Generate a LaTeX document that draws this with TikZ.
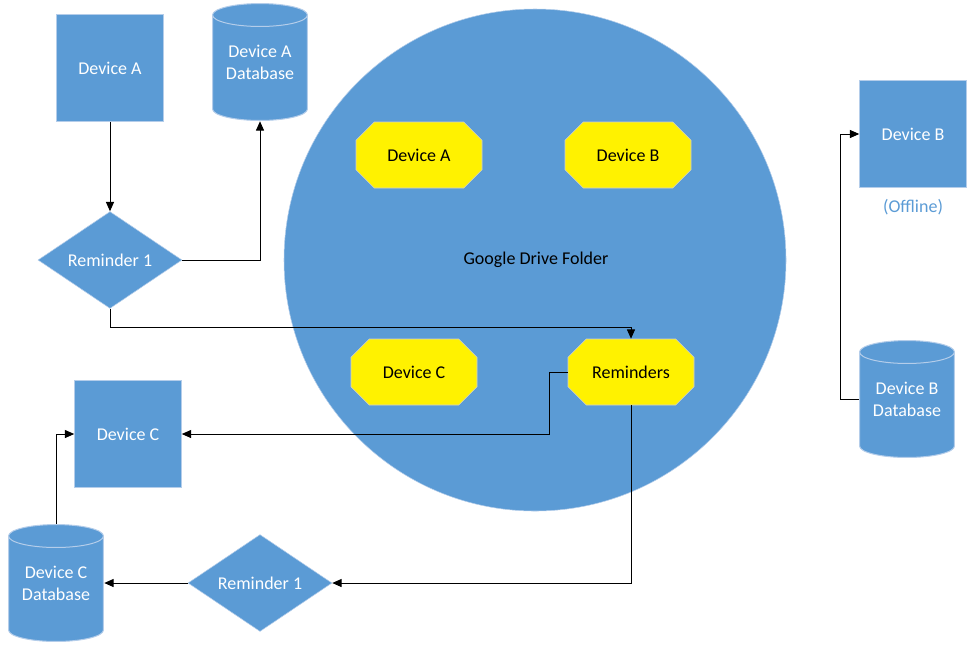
\documentclass[tikz,border=0pt]{standalone}
\usepackage{fontspec}
\setmainfont{Carlito}
\usetikzlibrary{shapes.geometric,shapes.misc,arrows.meta}
\definecolor{driveblue}{HTML}{5B9BD5}
\definecolor{edgeblue}{HTML}{B4CDEA}
\definecolor{notegray}{HTML}{D0D0D0}
\tikzset{
  device/.style={rectangle,draw=edgeblue,fill=driveblue,text=white,
    minimum width=80.25pt,minimum height=80.25pt,inner sep=0pt},
  store/.style={rectangle,minimum width=72pt,minimum height=88.5pt,
    inner sep=0pt,text=white,align=center,
    path picture={
      \draw[edgeblue,fill=driveblue,line width=0.75pt]
        ([xshift=0.4pt,yshift=-9pt]path picture bounding box.north west)
        -- ([xshift=0.4pt,yshift=9pt]path picture bounding box.south west)
        arc[start angle=180,end angle=360,x radius=35.6pt,y radius=8.6pt]
        -- ([xshift=-0.4pt,yshift=-9pt]path picture bounding box.north east)
        arc[start angle=0,end angle=180,x radius=35.6pt,y radius=8.6pt]
        -- cycle;
      \draw[edgeblue,line width=0.75pt]
        ([xshift=0.4pt,yshift=-9pt]path picture bounding box.north west)
        arc[start angle=180,end angle=360,x radius=35.6pt,y radius=8.6pt];
    }},
  decision/.style={diamond,draw=edgeblue,fill=driveblue,text=white,
    minimum width=108pt,minimum height=70pt,inner sep=0pt},
  synced/.style={chamfered rectangle,chamfered rectangle xsep=9pt,
    chamfered rectangle ysep=9pt,draw=notegray,fill=yellow,text=black,
    minimum width=94.5pt,minimum height=49.5pt,inner sep=0pt},
  arr/.style={-{Triangle[length=7pt,width=6pt]},line width=0.75pt,black}
}
\begin{document}
\begin{tikzpicture}[x=0.75pt,y=-0.75pt,font=\fontsize{13.5pt}{16.5pt}\selectfont]
  \useasboundingbox (0,0) rectangle (973,658);
  \node[circle,fill=driveblue,draw=edgeblue,minimum size=376.5pt,inner sep=0pt]
    (drive) at (535,260) {};
  \node (folder) at (536,260) {Google Drive Folder};
  \node[synced] (syncA) at (419,155) {Device A};
  \node[synced] (syncB) at (628,155) {Device B};
  \node[synced] (syncC) at (414,372) {Device C};
  \node[synced] (rems) at (631,372) {Reminders};

  \node[device] (devA) at (110,68) {Device A};
  \node[store] (dbA) at (260,62) {Device A\\Database};
  \node[decision] (remA) at (110,260) {Reminder 1};

  \node[device] (devB) at (913,134) {Device B};
  \node[text=driveblue] (offline) at (913,207) {(Offline)};
  \node[store] (dbB) at (907,399) {Device B\\Database};

  \node[device] (devC) at (128,434) {Device C};
  \node[store] (dbC) at (56,583) {Device C\\Database};
  \node[decision] (remC) at (260,583) {Reminder 1};

  \begin{scope}[arr]
    \draw (devA) -- (remA);
    \draw (remA.east) -| (dbA.south);
    \draw (remA.south) -- ++(0,19) -| (rems.north);
    \draw (rems.west) -- ++(-18,0) |- (devC.east);
    \draw (rems.south) |- (remC.east);
    \draw (remC) -- (dbC);
    \draw (dbC.north) |- (devC.west);
    \draw (dbB.west) -- ++(-18,0) |- (devB.west);
  \end{scope}
\end{tikzpicture}
\end{document}
